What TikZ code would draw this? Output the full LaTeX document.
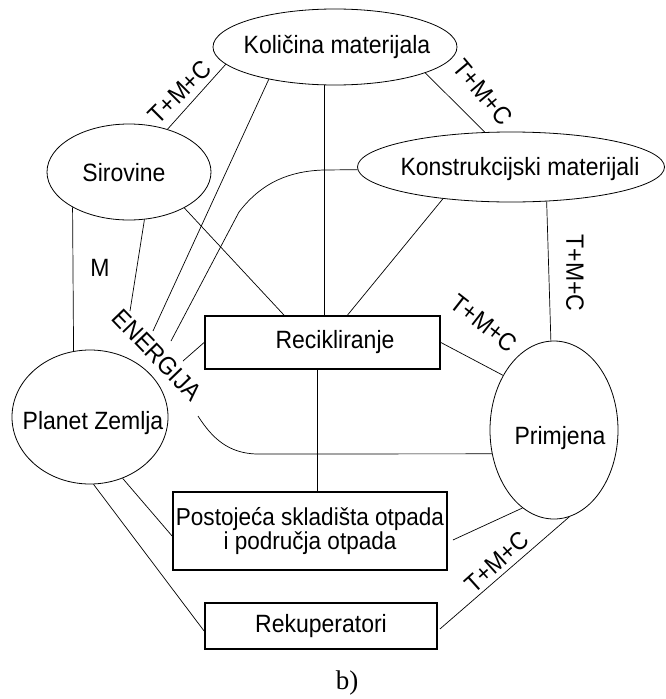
\documentclass[tikz,border=0pt]{standalone}
\usepackage{fontspec}
\setmainfont{Liberation Sans}[FakeStretch=0.92]
\newfontfamily\serifb{Liberation Serif}
\usetikzlibrary{shapes.geometric}
\begin{document}
\begin{tikzpicture}[x=1pt,y=-1pt,
  ell/.style={draw, ellipse, inner sep=0pt, line width=0.8pt},
  box/.style={draw, rectangle, line width=1.8pt, inner sep=0pt, align=center, font=\fontsize{25}{22}\selectfont},
  txt/.style={inner sep=0pt, font=\fontsize{25}{22}\selectfont},
  conn/.style={line width=0.7pt}]
\useasboundingbox (0,0) rectangle (665,699);

% ellipses
\node[ell, minimum width=244, minimum height=76] (kol) at (335,47) {};
\node[ell, minimum width=307, minimum height=70] (kon) at (511,167) {};
\node[ell, minimum width=164, minimum height=96] (sir) at (129,172) {};
\node[ell, minimum width=156, minimum height=134] (pla) at (90,417) {};
\node[ell, minimum width=128, minimum height=178] (pri) at (554,430) {};

\node[txt] (kolt) at (337,47) {Količina materijala};
\node[txt] (kont) at (520,169) {Konstrukcijski materijali};
\node[txt] (sirt) at (124,173) {Sirovine};
\node[txt] (plat) at (93,423) {Planet Zemlja};
\node[txt] (prit) at (560,438) {Primjena};

% boxes
\node[box, minimum width=235, minimum height=53] (rec) at (322.5,342.5) {\hspace*{25pt}Recikliranje};
\node[box, minimum width=274, minimum height=78, font=\fontsize{24.5}{21}\selectfont] (pos) at (310,531) {Postojeća skladišta otpada\\i područja otpada};
\node[box, minimum width=232, minimum height=46] (rek) at (321,626) {Rekuperatori};

% labels
\node[txt, rotate=45] (l1) at (180,92) {T+M+C};
\node[txt, rotate=-50] (l2) at (483,92) {T+M+C};
\node[txt, rotate=-90] (l3) at (575,273) {T+M+C};
\node[txt, rotate=-38] (l4) at (484,323) {T+M+C};
\node[txt, rotate=42] (l5) at (497,562) {T+M+C};
\node[txt] (lm) at (100,268) {M};
\node[txt, rotate=-46] (len) at (157,355) {ENERGIJA};
\node[inner sep=0pt, font=\serifb\fontsize{27}{27}\selectfont] (lb) at (347,683) {b)};

% free ends
\coordinate (e1) at (153,331);
\coordinate (e2) at (171,341);
\coordinate (e3) at (130,311);
\coordinate (e4) at (183,361);
\coordinate (e5) at (198,416);

% connectors
\draw[conn] (sir.48) -- (kol.189);
\draw[conn] (kol.206.6) -- (e1);
\draw[conn] ([xshift=1.5pt]rec.north) -- ([xshift=1.5pt]rec.north |- kol.south);
\draw[conn] (kol.344.8) -- (kon.127);
\draw[conn] (kon.316.6) -- (pri.92.5);
\draw[conn] (kon.205.6) -- ([xshift=25pt]rec.north);
\draw[conn] (kon.181) -- (324,170) .. controls (290,171) and (262,182) .. (239,212) -- (e2);
\draw[conn] (sir.212) -- (pla.104.6);
\draw[conn] (sir.288.4) -- (e3);
\draw[conn] (sir.327) -- ([xshift=-38.5pt]rec.north);
\draw[conn] (e4) -- (rec.west);
\draw[conn] (e5) .. controls (212,438) and (228,453) .. (256,454) -- (pri.201.3);
\draw[conn] (rec.east) -- (pri.133.4);
\draw[conn] ([xshift=-5.5pt]rec.south) -- ([xshift=-5.5pt]rec.south |- pos.north);
\draw[conn] (pla.298) -- ([yshift=-5pt]pos.west);
\draw[conn] (pla.273) -- ([yshift=-5pt]rek.west);
\draw[conn] (pri.248.6) -- ([xshift=5pt,yshift=-9pt]pos.east);
\draw[conn] (pri.280.3) -- ([xshift=2pt,yshift=-3pt]rek.east);
\end{tikzpicture}
\end{document}
